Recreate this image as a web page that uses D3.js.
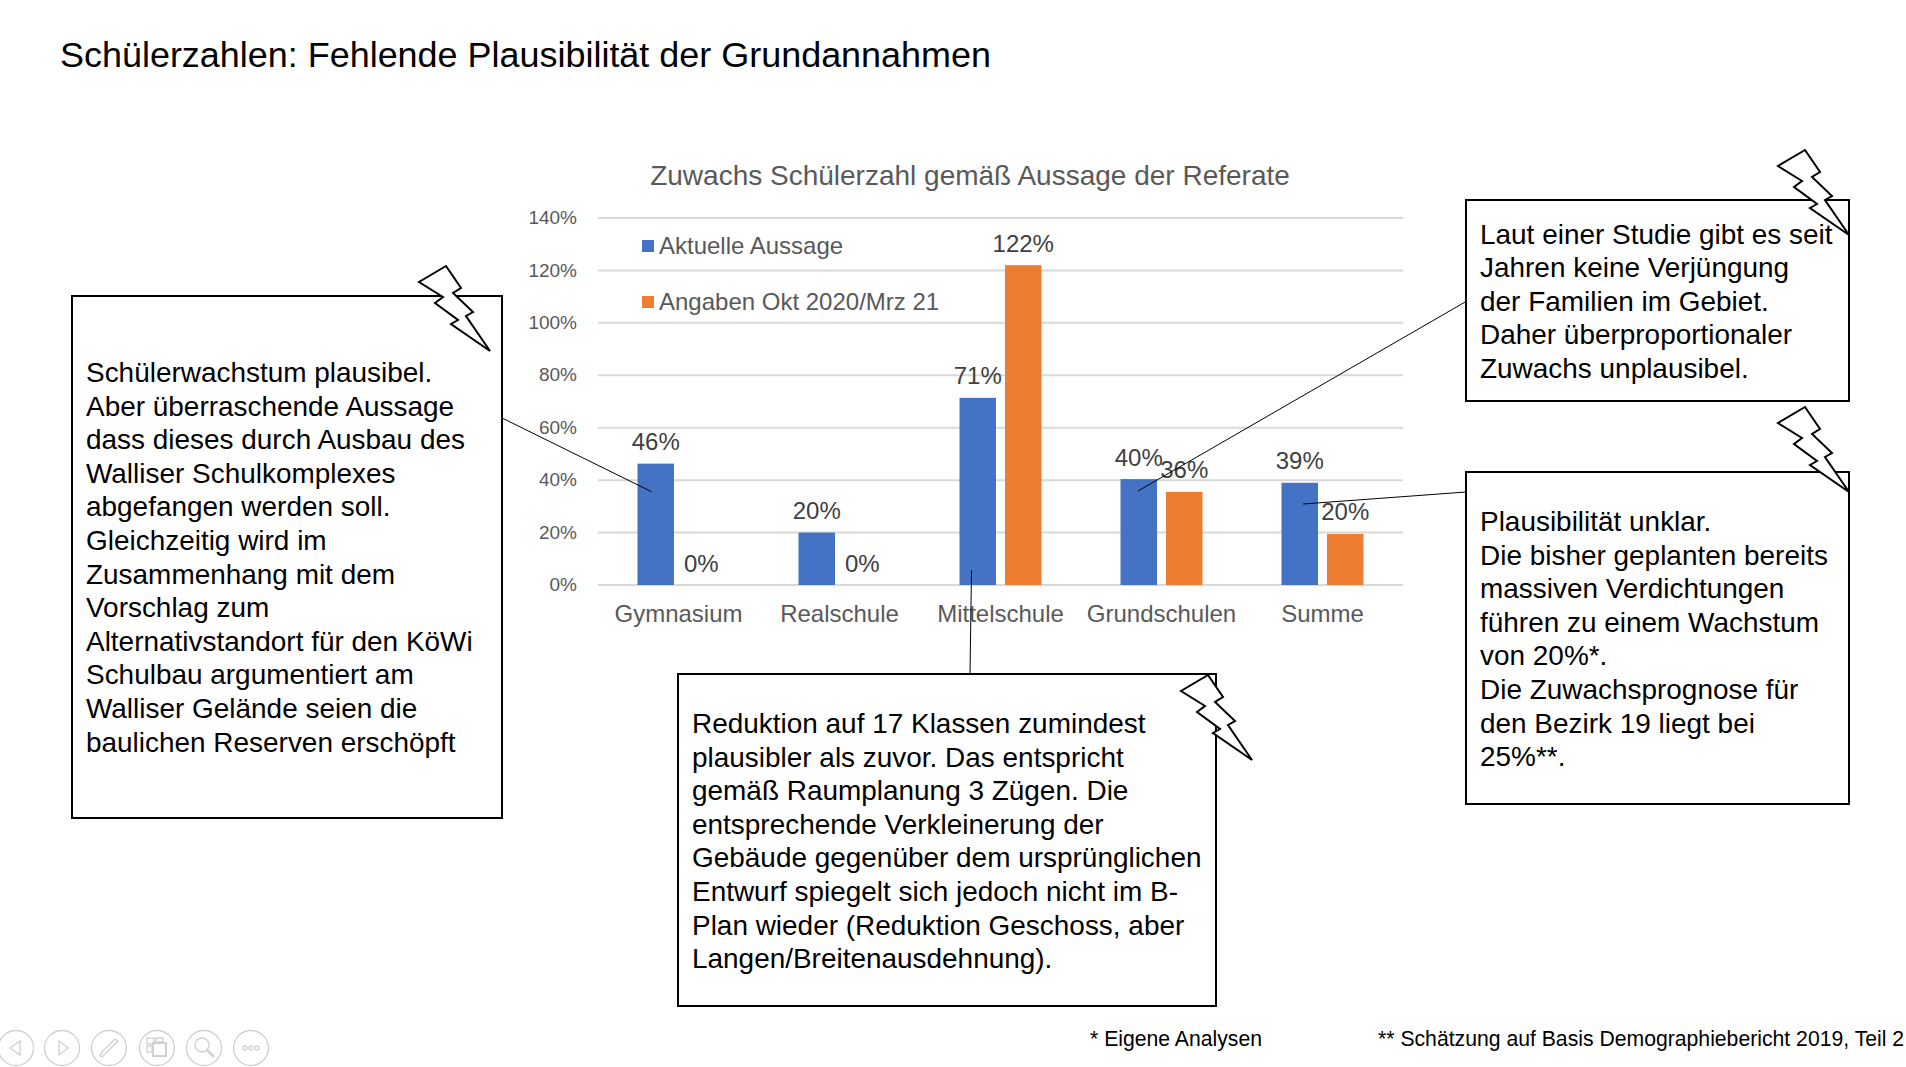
<!DOCTYPE html>
<html>
<head>
<meta charset="utf-8">
<script src="https://cdn.jsdelivr.net/npm/d3@7"></script>
<style>
  html, body { margin: 0; padding: 0; background: #fff; }
  text { font-family: "Liberation Sans", Arial, sans-serif; }
</style>
</head>
<body>
<div id="container"></div>
<script>
let w = 1906;
let h = 1067;

// chart data, in percent
let categories = ["Gymnasium", "Realschule", "Mittelschule", "Grundschulen", "Summe"];
let aktuelle = [46.3, 20, 71.4, 40.4, 39];
let angaben = [0, 0, 122, 35.5, 19.5];
let yTicks = [0, 20, 40, 60, 80, 100, 120, 140];
let seriesNames = ["Aktuelle Aussage", "Angaben Okt 2020/Mrz 21"];
let seriesColors = ["#4472c4", "#ed7d31"];

// notes next to the chart
let textLeft = ["Schülerwachstum plausibel.", "Aber überraschende Aussage", "dass dieses durch Ausbau des", "Walliser Schulkomplexes", "abgefangen werden soll.", "Gleichzeitig wird im", "Zusammenhang mit dem", "Vorschlag zum", "Alternativstandort für den KöWi", "Schulbau argumentiert am", "Walliser Gelände seien die", "baulichen Reserven erschöpft"];
let textBottom = ["Reduktion auf 17 Klassen zumindest", "plausibler als zuvor. Das entspricht", "gemäß Raumplanung 3 Zügen. Die", "entsprechende Verkleinerung der", "Gebäude gegenüber dem ursprünglichen", "Entwurf spiegelt sich jedoch nicht im B-", "Plan wieder (Reduktion Geschoss, aber", "Langen/Breitenausdehnung)."];
let textTop = ["Laut einer Studie gibt es seit", "Jahren keine Verjüngung", "der Familien im Gebiet.", "Daher überproportionaler", "Zuwachs unplausibel."];
let textRight = ["Plausibilität unklar.", "Die bisher geplanten bereits", "massiven Verdichtungen", "führen zu einem Wachstum", "von 20%*.", "Die Zuwachsprognose für", "den Bezirk 19 liegt bei", "25%**."];

let viz = d3.select("#container")
  .append("svg")
    .attr("width", w)
    .attr("height", h)
    .style("display", "block")
    .style("background-color", "white");

viz.append("text")
  .attr("x", 60)
  .attr("y", 67)
  .attr("font-size", 35.95)
  .attr("fill", "#000")
  .text("Schülerzahlen: Fehlende Plausibilität der Grundannahmen");

// ---- chart ----
let left = 598, right = 1403, top0 = 218, bottom = 585;

let xScale = d3.scaleBand().domain(categories).range([left, right]);
let yScale = d3.scaleLinear().domain([0, 140]).range([bottom, top0]);
let barW = 36.5, barGap = 9;

viz.append("text")
  .attr("x", 970)
  .attr("y", 185)
  .attr("text-anchor", "middle")
  .attr("font-size", 28)
  .attr("fill", "#595959")
  .text("Zuwachs Schülerzahl gemäß Aussage der Referate");

let yAxis = d3.axisLeft(yScale)
  .tickValues(yTicks)
  .tickFormat(d => d + "%")
  .tickSize(-(right - left))
  .tickPadding(21)
  .offset(0);

let yGroup = viz.append("g")
  .attr("transform", "translate(" + left + ",0)")
  .call(yAxis);
yGroup.select(".domain").remove();
yGroup.selectAll("line").attr("stroke", "#d9d9d9").attr("stroke-width", 2);
yGroup.selectAll("text").attr("font-size", 19).attr("fill", "#595959");

let xAxis = d3.axisBottom(xScale).tickSize(0).tickPadding(20).offset(0);
let xGroup = viz.append("g")
  .attr("transform", "translate(0," + bottom + ")")
  .call(xAxis);
xGroup.select(".domain").remove();
xGroup.selectAll("text").attr("font-size", 24).attr("fill", "#595959");

function barX(d, s) {
  let c = xScale(d) + xScale.bandwidth() / 2;
  return s == 0 ? c - barGap / 2 - barW : c + barGap / 2;
}

[aktuelle, angaben].forEach(function(values, s) {
  let rows = categories.map((c, i) => ({cat: c, value: values[i]}));
  viz.append("g").selectAll("rect")
    .data(rows)
    .enter()
    .append("rect")
      .attr("x", d => barX(d.cat, s))
      .attr("y", d => yScale(d.value))
      .attr("width", barW)
      .attr("height", d => bottom - yScale(d.value))
      .attr("fill", seriesColors[s]);
  viz.append("g").selectAll("text")
    .data(rows)
    .enter()
    .append("text")
      .attr("x", d => barX(d.cat, s) + barW / 2)
      .attr("y", d => yScale(d.value) - 13.5)
      .attr("text-anchor", "middle")
      .attr("font-size", 24)
      .attr("fill", "#404040")
      .text(d => Math.round(d.value) + "%");
});

// legend
seriesNames.forEach(function(name, i) {
  let y = 253 + i * 56;
  viz.append("rect")
    .attr("x", 642).attr("y", y - 13)
    .attr("width", 12).attr("height", 12)
    .attr("fill", seriesColors[i]);
  viz.append("text")
    .attr("x", 659).attr("y", y + 0.5)
    .attr("font-size", 24)
    .attr("fill", "#595959")
    .text(name);
});

// ---- callouts ----
let boltShape = [[-44,-85],[-71,-69],[-47,-54],[-55,-48],[-32,-31],[-39,-27],[0,0],[-24,-35],[-17,-39],[-37,-58],[-29,-63]];
let line = d3.line();

function callout(box, lines, textX, firstY, leader, tip) {
  viz.append("line")
    .attr("x1", leader[0]).attr("y1", leader[1])
    .attr("x2", leader[2]).attr("y2", leader[3])
    .attr("stroke", "#000").attr("stroke-width", 1);
  viz.append("rect")
    .attr("x", box[0]).attr("y", box[1])
    .attr("width", box[2] - box[0]).attr("height", box[3] - box[1])
    .attr("fill", "none")
    .attr("stroke", "#000").attr("stroke-width", 2);
  viz.append("path")
    .attr("d", line(boltShape) + "Z")
    .attr("transform", "translate(" + tip[0] + "," + tip[1] + ")")
    .attr("fill", "white")
    .attr("stroke", "#000").attr("stroke-width", 2);
  viz.append("g").selectAll("text")
    .data(lines)
    .enter()
    .append("text")
      .attr("x", textX)
      .attr("y", (d, i) => firstY + i * 33.6)
      .attr("font-size", 27.95)
      .attr("fill", "#000")
      .text(d => d);
}

callout([72, 296, 502, 818], textLeft, 86, 382, [502, 418, 651.5, 491.7], [490, 351]);
callout([678, 674, 1216, 1006], textBottom, 692, 733, [971.5, 570.5, 970, 674], [1252, 760]);
callout([1466, 200, 1849, 401], textTop, 1480, 243.5, [1466, 301.5, 1138, 491], [1849, 235]);
callout([1466, 472, 1849, 804], textRight, 1480, 531, [1466, 492, 1303, 504], [1849, 492]);

// footnotes
viz.append("text").attr("x", 1090).attr("y", 1046).attr("font-size", 21.2).text("* Eigene Analysen");
viz.append("text").attr("x", 1378).attr("y", 1046).attr("font-size", 21.2).text("** Schätzung auf Basis Demographiebericht 2019, Teil 2");

// ---- slideshow buttons ----
let navX = [16, 62, 109, 157, 204, 251];
let nav = viz.append("g").attr("fill", "none").attr("stroke", "#d0d0d0").attr("stroke-width", 1.3);
navX.forEach(x => nav.append("circle").attr("cx", x).attr("cy", 1048).attr("r", 17.5));
function navIcon(i) { return nav.append("g").attr("transform", "translate(" + navX[i] + ",1048)"); }
navIcon(0).append("path").attr("d", "M4,-7L-6,0L4,7Z");
navIcon(1).append("path").attr("d", "M-3,-7L6,0L-3,7Z");
navIcon(2).append("path").attr("d", "M-9,7L-6,3L6,-9L9,-7L-3,5L-7,9Z");
let grid = navIcon(3);
grid.append("rect").attr("x", -10).attr("y", -10).attr("width", 7).attr("height", 6);
grid.append("rect").attr("x", -1).attr("y", -10).attr("width", 7).attr("height", 4);
grid.append("rect").attr("x", -10).attr("y", -2).attr("width", 5).attr("height", 6);
grid.append("rect").attr("x", -4).attr("y", -5).attr("width", 13).attr("height", 13).attr("stroke-width", 2);
let zoom = navIcon(4);
zoom.append("circle").attr("cx", -2).attr("cy", -3).attr("r", 7);
zoom.append("path").attr("d", "M3,2L10,9").attr("stroke-width", 2.5);
[-6, 0, 6].forEach(x => navIcon(5).append("circle").attr("cx", x).attr("cy", 0).attr("r", 2));
</script>
</body>
</html>
